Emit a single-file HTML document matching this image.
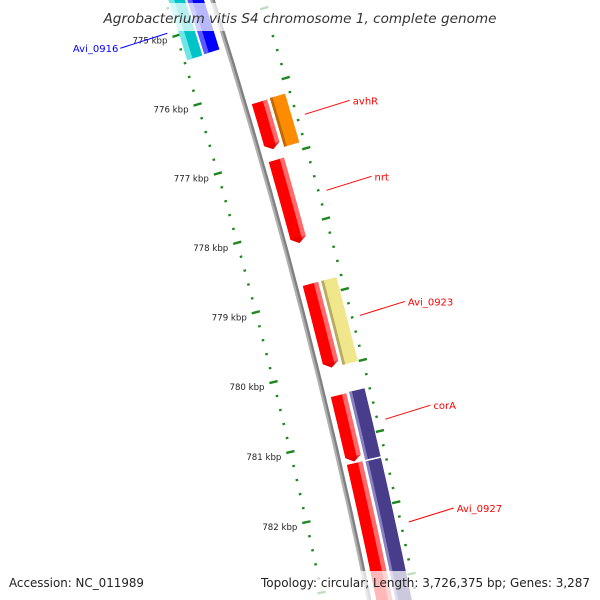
<!DOCTYPE html>
<html><head><meta charset="utf-8"><style>
html,body{margin:0;padding:0;background:#fff;width:600px;height:600px;overflow:hidden;}
svg{display:block;font-family:"DejaVu Sans","Liberation Sans",sans-serif;}
</style></head><body>
<svg id="map" width="600" height="600" viewBox="0 0 600 600" xmlns="http://www.w3.org/2000/svg">
<rect x="0" y="0" width="600" height="600" fill="#fff"/>
<g id="rulers"></g>
<g id="backbone"></g>
<g id="features"></g>
<g id="labels"></g>
<rect x="98" y="3" width="404" height="28" fill="#fff" fill-opacity="0.72"/>
<text x="300" y="23" text-anchor="middle" font-size="13.5" font-style="italic" fill="#333" textLength="393" lengthAdjust="spacingAndGlyphs">Agrobacterium vitis S4 chromosome 1, complete genome</text>
<rect x="0" y="571" width="600" height="29" fill="#fff" fill-opacity="0.72"/>
<text x="9" y="587" font-size="12" fill="#222" textLength="135" lengthAdjust="spacingAndGlyphs">Accession: NC_011989</text>
<text x="590" y="587" text-anchor="end" font-size="12" fill="#222" textLength="329" lengthAdjust="spacingAndGlyphs">Topology: circular; Length: 3,726,375 bp; Genes: 3,287</text>
</svg>
<script>
// feature data (kbp)
const featStart = [774.49, 774.49, 776.21, 776.20, 777.04, 778.81, 778.81, 780.39, 780.38, 781.35, 781.36];
const featEnd   = [775.37, 775.36, 776.89, 776.90, 778.23, 780.00, 780.00, 781.33, 781.34, 783.40, 783.40];
const featTrack = [-2, -1, 1, 2, 1, 1, 2, 1, 2, 1, 2];
const featColor = ['cyan','blue','red','orange','red','red','yellow','red','purple','red','purple'];
const featArrow = [false,false,true,false,true,true,false,true,false,true,false];
const labelText = ['Avi_0916','avhR','nrt','Avi_0923','corA','Avi_0927'];
const labelKbp  = [774.93, 776.55, 777.63, 779.40, 780.86, 782.30];
const labelSide = [-1, 1, 1, 1, 1, 1];
const tickStart = 774.0, tickEnd = 783.6, tickStep = 0.2;

const NS = 'http://www.w3.org/2000/svg';
const CX = -5444, CY = 1797, R0 = 5935;
function ang(k){ return (-16.70 + (k - 776) * 0.70) * Math.PI / 180; }
function P(k, r){ const a = ang(k); return [CX + r * Math.cos(a), CY + r * Math.sin(a)]; }
function f(p){ return p[0].toFixed(2) + ' ' + p[1].toFixed(2); }
function mk(tag, attrs, parent){ const e = document.createElementNS(NS, tag); for (const a in attrs) e.setAttribute(a, attrs[a]); parent.appendChild(e); return e; }
function band(k1, k2, r1, r2){
  return 'M' + f(P(k1, r1)) + ' A' + r1 + ' ' + r1 + ' 0 0 1 ' + f(P(k2, r1)) +
         ' L' + f(P(k2, r2)) + ' A' + r2 + ' ' + r2 + ' 0 0 0 ' + f(P(k1, r2)) + ' Z';
}
function arrowShape(k1, k2, r1, r2){
  const ka = k2 - 0.075, rm = (r1 + r2) / 2;
  return 'M' + f(P(k1, r1)) + ' A' + r1 + ' ' + r1 + ' 0 0 1 ' + f(P(ka, r1)) +
         ' L' + f(P(k2, rm)) + ' L' + f(P(ka, r2)) + ' A' + r2 + ' ' + r2 + ' 0 0 0 ' + f(P(k1, r2)) + ' Z';
}
const trackR = { '1': [5942, 5958], '2': [5961, 5977], '-1': [5911, 5927], '-2': [5893, 5909] };
const pal = {
  red:    { base: '#ff0000', stripe: '#ff6a6a', sFrom: 0.72, sTo: 1.0, dark: '#d00000' },
  orange: { base: '#ff8c00', stripe: '#c06a00', sFrom: 0.0, sTo: 0.18, dark: '#e07a00' },
  yellow: { base: '#f0e68c', stripe: '#b8ab62', sFrom: 0.0, sTo: 0.18, dark: '#e0d67c' },
  purple: { base: '#483d8b', stripe: '#8a82c0', sFrom: 0.0, sTo: 0.18, dark: '#3a3178' },
  cyan:   { base: '#00c4c8', stripe: '#6fe6e6', sFrom: 0.0, sTo: 0.35, dark: '#00a8ac' },
  blue:   { base: '#0000ff', stripe: '#5a5aff', sFrom: 0.0, sTo: 0.3, dark: '#0000d0' }
};

// rulers
const rul = document.getElementById('rulers');
[5890, 5982].forEach(function(rr, ri){
  const n = Math.round((tickEnd - tickStart) / tickStep);
  for (let i = 0; i <= n; i++){
    const k = tickStart + i * tickStep;
    const major = Math.abs(k - Math.round(k)) < 1e-6;
    const h = major ? 4.2 : 1.3;
    const a = P(k, rr - h), b = P(k, rr + h);
    const t = mk('line', { x1: a[0], y1: a[1], x2: b[0], y2: b[1], stroke: '#1e871e', 'stroke-width': major ? 2.4 : 2.2 }, rul);
    
    
    if (major && ri === 0 && k >= 775 && k <= 782){
      const p = P(k, rr);
      const tx = mk('text', { x: p[0] - 9, y: p[1] + 8, 'text-anchor': 'end', 'font-size': '8.6', fill: '#222' }, rul);
      
      
      tx.textContent = Math.round(k) + ' kbp';
    }
  }
});

// backbone
const bb = document.getElementById('backbone');
const b1 = mk('path', { d: 'M' + f(P(773.5, R0 - 1)) + ' A' + (R0 - 1) + ' ' + (R0 - 1) + ' 0 0 1 ' + f(P(784, R0 - 1)), fill: 'none', stroke: '#b0b0b0', 'stroke-width': 2.4 }, bb);


const b2 = mk('path', { d: 'M' + f(P(773.5, R0 + 1.2)) + ' A' + (R0 + 1.2) + ' ' + (R0 + 1.2) + ' 0 0 1 ' + f(P(784, R0 + 1.2)), fill: 'none', stroke: '#808080', 'stroke-width': 2.4 }, bb);



// features
const fg = document.getElementById('features');
const defs = mk('defs', {}, fg);
for (let i = 0; i < featStart.length; i++){
  const tr = trackR[String(featTrack[i])];
  const r1 = tr[0], r2 = tr[1];
  const c = pal[featColor[i]];
  const shape = featArrow[i] ? arrowShape(featStart[i], featEnd[i], r1, r2) : band(featStart[i], featEnd[i], r1, r2);
  const cp = mk('clipPath', { id: 'cp' + i }, defs);
  mk('path', { d: shape }, cp);
  const g = mk('g', { 'clip-path': 'url(#cp' + i + ')' }, fg);
  
  
  mk('path', { d: shape, fill: c.base }, g);
  const s1 = r1 + (r2 - r1) * c.sFrom, s2 = r1 + (r2 - r1) * c.sTo;
  mk('path', { d: band(featStart[i] - 0.05, featEnd[i] + 0.05, s1, s2), fill: c.stripe }, g);
  if (featArrow[i]){
    mk('path', { d: band(featEnd[i] - 0.075, featEnd[i] + 0.05, r1 - 1, r2 + 1), fill: c.dark, 'fill-opacity': 0.55 }, g);
  }
}

// labels
const lg = document.getElementById('labels');
for (let i = 0; i < labelText.length; i++){
  const side = labelSide[i];
  const p = P(labelKbp[i], side > 0 ? 5990 : 5882);
  const dx = side > 0 ? 45 : -47, dy = side > 0 ? -14 : 15;
  const col = side > 0 ? '#ff0000' : '#0000ff';
  const ln = mk('line', { x1: p[0], y1: p[1], x2: p[0] + dx, y2: p[1] + dy, stroke: col, 'stroke-width': 1 }, lg);
  
  
  const tx = mk('text', { x: p[0] + dx + (side > 0 ? 3 : -2), y: p[1] + dy + 4, 'text-anchor': side > 0 ? 'start' : 'end', 'font-size': '10', fill: col }, lg);
  
  
  tx.textContent = labelText[i];
}
</script>
</body></html>
